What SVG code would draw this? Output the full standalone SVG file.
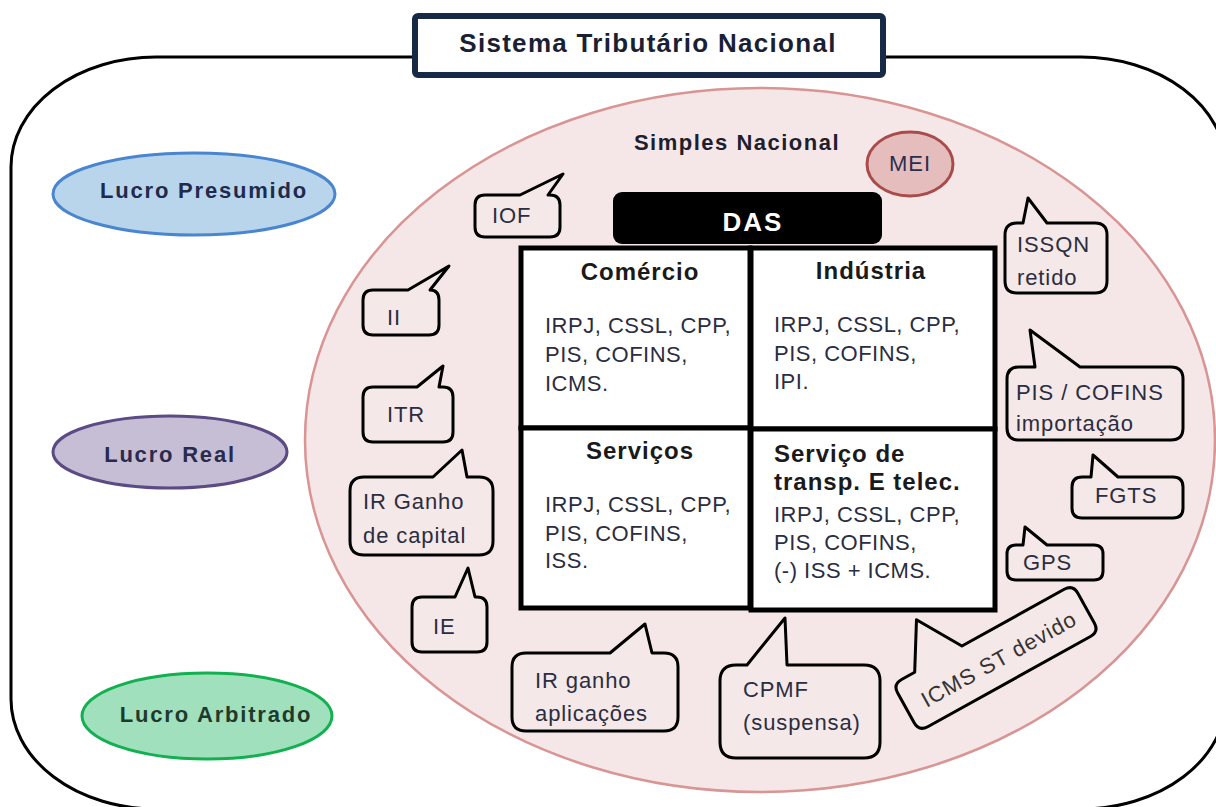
<svg xmlns="http://www.w3.org/2000/svg" width="1216" height="807" viewBox="0 0 1216 807">
<style>
text{font-family:"Liberation Sans",Arial,sans-serif}
.title{font-size:26px;font-weight:bold;fill:#1a1f33;letter-spacing:1.3px}
.sn{font-size:22px;font-weight:bold;fill:#1e1e2e;letter-spacing:1.5px}
.ell{font-size:22px;font-weight:bold;letter-spacing:1.8px}
.h{font-size:24px;font-weight:bold;fill:#1a1a1a;letter-spacing:1px}
.b{font-size:22px;fill:#2b2d40;letter-spacing:0.5px}
.c{font-size:22px;fill:#2b2d40;letter-spacing:0.9px}
.bub{fill:#f5e8e8;stroke:#000;stroke-width:3;stroke-linejoin:round}
.cell{fill:#fff;stroke:#000;stroke-width:5}
</style>
<g id="frame">
<rect x="11" y="57" width="1215" height="752" rx="145" ry="110" fill="#fff" stroke="#000" stroke-width="3"/>
</g>
<g id="title">
<rect x="415" y="16" width="468" height="59" rx="3" fill="#fff" stroke="#172a45" stroke-width="6"/>
<text class="title" x="648" y="52" text-anchor="middle">Sistema Tributário Nacional</text>
</g>
<g id="lucro-presumido">
<ellipse cx="194" cy="194" rx="141" ry="41" fill="#b9d5eb" stroke="#4a86d0" stroke-width="3"/>
<text class="ell" x="204" y="198" text-anchor="middle" fill="#1f2a4d">Lucro Presumido</text>
</g>
<g id="lucro-real">
<ellipse cx="170" cy="452" rx="117" ry="36" fill="#c6bed5" stroke="#5c4a85" stroke-width="3"/>
<text class="ell" x="170" y="462" text-anchor="middle" fill="#2a2a4d">Lucro Real</text>
</g>
<g id="lucro-arbitrado">
<ellipse cx="207" cy="716" rx="125" ry="43" fill="#a1e0bd" stroke="#12b050" stroke-width="3"/>
<text class="ell" x="216" y="722" text-anchor="middle" fill="#1f3a2c">Lucro Arbitrado</text>
</g>
<g id="simples-nacional">
<ellipse cx="760" cy="440" rx="455" ry="352" fill="#f5e7e7" stroke="#d99494" stroke-width="2.5"/>
<text class="sn" x="737" y="150" text-anchor="middle">Simples Nacional</text>
</g>
<g id="mei">
<ellipse cx="910" cy="164" rx="43" ry="32" fill="#e6bdbd" stroke="#a94b4b" stroke-width="3"/>
<text x="910" y="171" text-anchor="middle" style="font-size:22px;fill:#2b2d50;letter-spacing:1px">MEI</text>
</g>
<g id="das">
<rect x="613" y="192" width="269" height="52" rx="9" fill="#000"/>
<text x="753" y="231" text-anchor="middle" style="font-size:26px;font-weight:bold;fill:#fff;letter-spacing:2px">DAS</text>
</g>
<g id="comercio">
<rect class="cell" x="521" y="248" width="229" height="180"/>
<text class="h" x="640" y="280" text-anchor="middle">Comércio</text>
<text class="b" x="545" y="333">IRPJ, CSSL, CPP,</text>
<text class="b" x="545" y="362">PIS, COFINS,</text>
<text class="b" x="545" y="391">ICMS.</text>
</g>
<g id="industria">
<rect class="cell" x="751" y="248" width="244" height="181"/>
<text class="h" x="871" y="279" text-anchor="middle">Indústria</text>
<text class="b" x="774" y="332">IRPJ, CSSL, CPP,</text>
<text class="b" x="774" y="361">PIS, COFINS,</text>
<text class="b" x="774" y="389">IPI.</text>
</g>
<g id="servicos">
<rect class="cell" x="521" y="428" width="229" height="180"/>
<text class="h" x="640" y="459" text-anchor="middle">Serviços</text>
<text class="b" x="545" y="512">IRPJ, CSSL, CPP,</text>
<text class="b" x="545" y="541">PIS, COFINS,</text>
<text class="b" x="545" y="568">ISS.</text>
</g>
<g id="servico-transp">
<rect class="cell" x="751" y="429" width="244" height="181"/>
<text class="h" x="774" y="462">Serviço de</text>
<text class="h" x="774" y="490">transp. E telec.</text>
<text class="b" x="774" y="522">IRPJ, CSSL, CPP,</text>
<text class="b" x="774" y="550">PIS, COFINS,</text>
<text class="b" x="774" y="578">(-) ISS + ICMS.</text>
</g>
<g id="iof">
<path class="bub" d="M485,195 L520,195 L563,174 L548,195 L550,195 Q560,195 560,205 L560,227 Q560,237 550,237 L485,237 Q475,237 475,227 L475,205 Q475,195 485,195 Z"/>
<text class="c" x="492" y="223">IOF</text>
</g>
<g id="ii">
<path class="bub" d="M373,290 L408,290 L449,266 L430,290 Q439,290 439,300 L439,325 Q439,335 429,335 L373,335 Q363,335 363,325 L363,300 Q363,290 373,290 Z"/>
<text class="c" x="387" y="325">II</text>
</g>
<g id="itr">
<path class="bub" d="M373,387 L417,387 L443,366 L439,387 L443,387 Q453,387 453,397 L453,432 Q453,442 443,442 L373,442 Q363,442 363,432 L363,397 Q363,387 373,387 Z"/>
<text class="c" x="387" y="422">ITR</text>
</g>
<g id="ir-ganho-capital">
<path class="bub" d="M364,477 L433,477 L462,450 L467,477 L479,477 Q493,477 493,491 L493,541 Q493,555 479,555 L364,555 Q350,555 350,541 L350,491 Q350,477 364,477 Z"/>
<text class="c" x="363" y="509">IR Ganho</text>
<text class="c" x="363" y="543">de capital</text>
</g>
<g id="ie">
<path class="bub" d="M422,597 L455,597 L468,568 L475,597 L477,597 Q487,597 487,607 L487,642 Q487,652 477,652 L422,652 Q412,652 412,642 L412,607 Q412,597 422,597 Z"/>
<text class="c" x="433" y="634">IE</text>
</g>
<g id="ir-ganho-aplicacoes">
<path class="bub" d="M526,653 L610,653 L645,624 L652,653 L664,653 Q678,653 678,667 L678,717 Q678,731 664,731 L526,731 Q512,731 512,717 L512,667 Q512,653 526,653 Z"/>
<text class="c" x="535" y="688">IR ganho</text>
<text class="c" x="535" y="721">aplicações</text>
</g>
<g id="cpmf">
<path class="bub" d="M736,665 L747,665 L785,618 L787,665 L864,665 Q880,665 880,681 L880,742 Q880,758 864,758 L736,758 Q720,758 720,742 L720,681 Q720,665 736,665 Z"/>
<text class="c" x="743" y="697">CPMF</text>
<text class="c" x="743" y="730">(suspensa)</text>
</g>
<g id="issqn">
<path class="bub" d="M1017,223 L1023,223 L1028,198 L1047,223 L1095,223 Q1107,223 1107,235 L1107,281 Q1107,293 1095,293 L1017,293 Q1005,293 1005,281 L1005,235 Q1005,223 1017,223 Z"/>
<text class="c" x="1017" y="252">ISSQN</text>
<text class="c" x="1017" y="285">retido</text>
</g>
<g id="pis-cofins-importacao">
<path class="bub" d="M1019,367 L1035,367 L1030,330 L1080,367 L1171,367 Q1183,367 1183,379 L1183,428 Q1183,440 1171,440 L1019,440 Q1007,440 1007,428 L1007,379 Q1007,367 1019,367 Z"/>
<text class="c" x="1016" y="400">PIS / COFINS</text>
<text class="c" x="1016" y="431">importação</text>
</g>
<g id="fgts">
<path class="bub" d="M1082,477 L1091,477 L1093,455 L1118,477 L1173,477 Q1183,477 1183,487 L1183,508 Q1183,518 1173,518 L1082,518 Q1072,518 1072,508 L1072,487 Q1072,477 1082,477 Z"/>
<text class="c" x="1095" y="503">FGTS</text>
</g>
<g id="gps">
<path class="bub" d="M1016,545 L1023,545 L1025,527 L1047,545 L1094,545 Q1103,545 1103,554 L1103,571 Q1103,580 1094,580 L1016,580 Q1007,580 1007,571 L1007,554 Q1007,545 1016,545 Z"/>
<text class="c" x="1023" y="570">GPS</text>
</g>
<g id="icms-st-devido" transform="translate(996,658) rotate(-29)">
<path class="bub" d="M-93,-27 L-78,-27 L-51,-72 L-24,-27 L93,-27 Q103,-27 103,-17 L103,17 Q103,27 93,27 L-93,27 Q-103,27 -103,17 L-103,-17 Q-103,-27 -93,-27 Z"/>
<text x="2" y="10" text-anchor="middle" style="font-size:22px;fill:#333;letter-spacing:1px">ICMS ST devido</text>
</g>
<g id="connectors"></g>
</svg>
